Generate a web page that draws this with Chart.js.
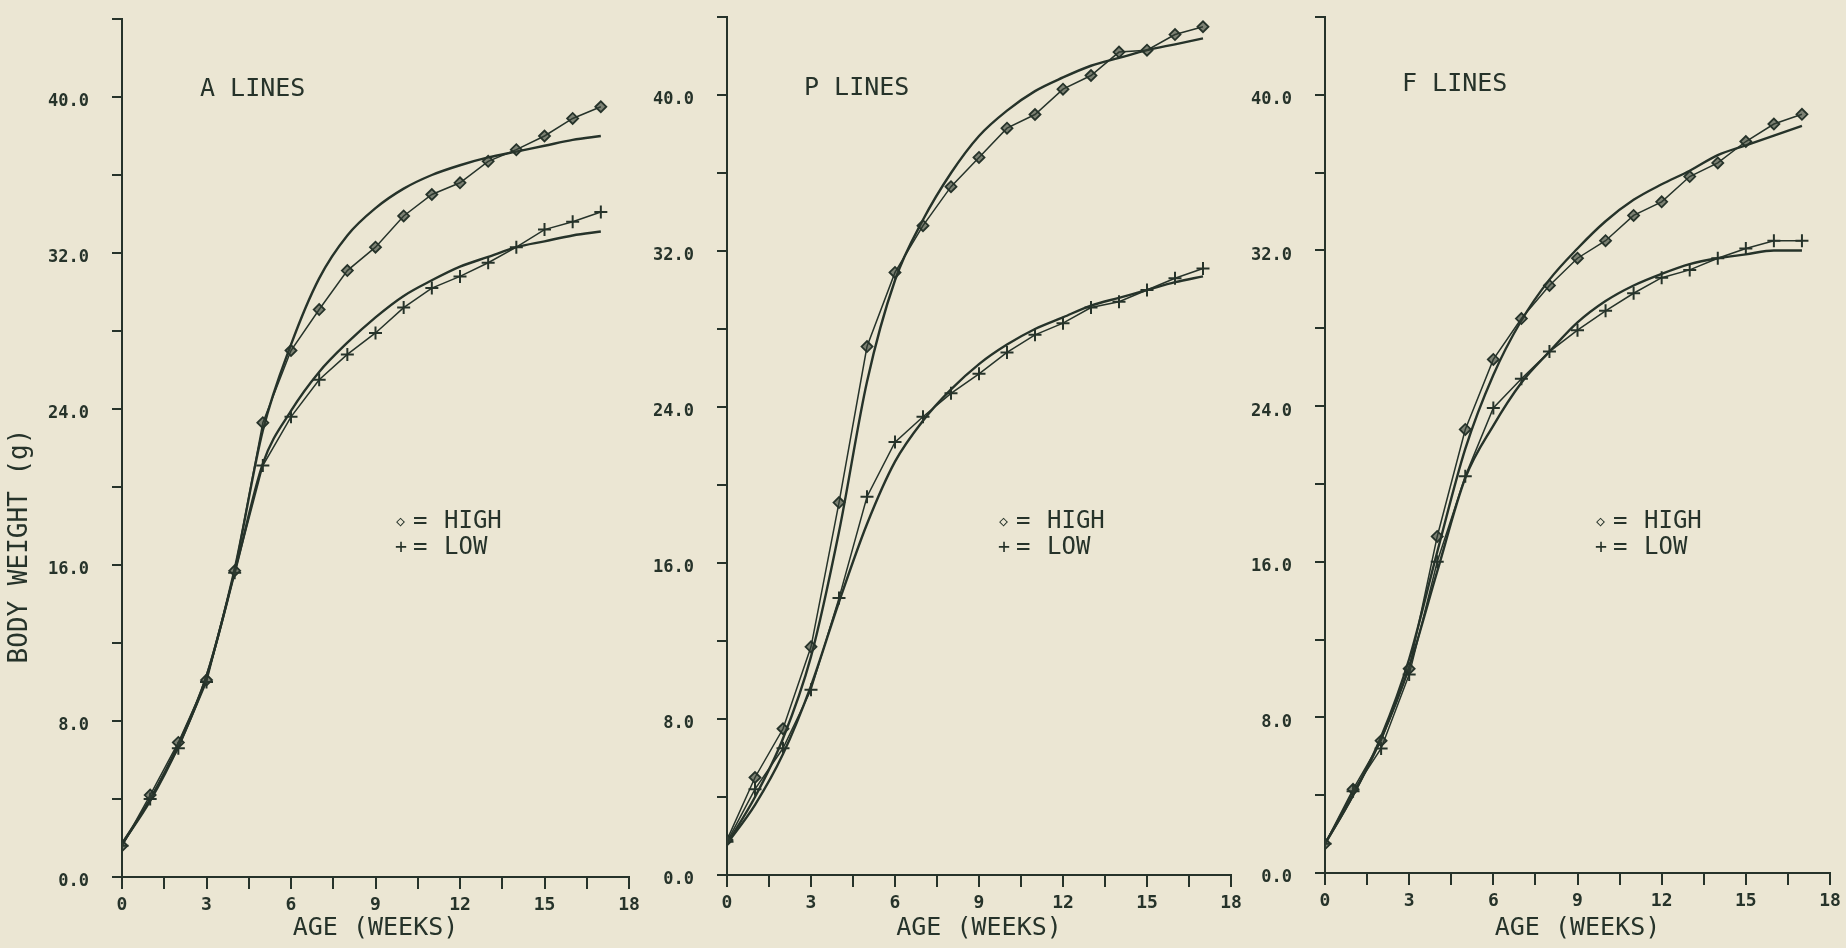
<!DOCTYPE html>
<html>
<head>
<meta charset="utf-8">
<script src="https://cdn.jsdelivr.net/npm/chart.js@4.4.0/dist/chart.umd.min.js"></script>
<style>
  html, body { margin: 0; padding: 0; background: #ebe6d3; }
  body { width: 1846px; height: 948px; position: relative; overflow: hidden; }
  .panel { position: absolute; top: 0; height: 948px; }
</style>
</head>
<body>
<div class="panel" style="left:0;width:650px"><canvas id="chartA"></canvas></div>
<div class="panel" style="left:650px;width:600px"><canvas id="chartP"></canvas></div>
<div class="panel" style="left:1250px;width:596px"><canvas id="chartF"></canvas></div>

<script>
// ---- data (body weight in g) ----
const weeks = [0, 1, 2, 3, 4, 5, 6, 7, 8, 9, 10, 11, 12, 13, 14, 15, 16, 17];
const xLabelValues = [0, 3, 6, 9, 12, 15, 18];
const yLabelValues = [0, 8, 16, 24, 32, 40];

// A lines
const aHighObs = [1.6, 4.2, 6.9, 10.1, 15.7, 23.3, 27.0, 29.1, 31.1, 32.3, 33.9, 35.0, 35.6, 36.7, 37.3, 38.0, 38.9, 39.5];
const aLowObs  = [1.6, 4.0, 6.6, 10.0, 15.6, 21.1, 23.6, 25.5, 26.8, 27.9, 29.2, 30.2, 30.8, 31.5, 32.3, 33.2, 33.6, 34.1];
const aHighFit = [1.7, 3.9, 6.7, 10.3, 15.8, 22.9, 27.3, 30.7, 32.9, 34.3, 35.3, 36.0, 36.5, 36.9, 37.2, 37.5, 37.8, 38.0];
const aLowFit  = [1.7, 4.0, 6.8, 10.3, 15.6, 21.2, 23.9, 25.9, 27.4, 28.7, 29.8, 30.6, 31.3, 31.8, 32.3, 32.6, 32.9, 33.1];

// P lines
const pHighObs = [1.8, 5.0, 7.5, 11.7, 19.1, 27.1, 30.9, 33.3, 35.3, 36.8, 38.3, 39.0, 40.3, 41.0, 42.2, 42.3, 43.1, 43.5];
const pLowObs  = [1.7, 4.4, 6.5, 9.5, 14.2, 19.4, 22.2, 23.5, 24.7, 25.7, 26.8, 27.7, 28.3, 29.1, 29.4, 30.0, 30.6, 31.1];
const pHighFit = [1.6, 4.0, 7.0, 11.2, 17.6, 25.3, 30.5, 33.6, 36.0, 37.9, 39.2, 40.2, 40.9, 41.5, 41.9, 42.3, 42.6, 42.9];
const pLowFit  = [1.6, 3.6, 6.2, 9.7, 14.0, 18.0, 21.2, 23.3, 24.9, 26.2, 27.2, 28.0, 28.6, 29.2, 29.6, 30.0, 30.4, 30.7];

// F lines
const fHighObs = [1.5, 4.3, 6.8, 10.5, 17.3, 22.8, 26.4, 28.5, 30.2, 31.6, 32.5, 33.8, 34.5, 35.8, 36.5, 37.6, 38.5, 39.0];
const fLowObs  = [1.5, 4.2, 6.4, 10.2, 16.0, 20.4, 23.9, 25.4, 26.8, 27.9, 28.9, 29.8, 30.6, 31.0, 31.6, 32.1, 32.5, 32.5];
const fHighFit = [1.5, 4.0, 7.0, 11.0, 16.5, 21.8, 25.6, 28.4, 30.5, 32.1, 33.5, 34.6, 35.4, 36.1, 36.9, 37.4, 37.9, 38.4];
const fLowFit  = [1.5, 4.0, 6.9, 10.6, 15.5, 20.3, 23.0, 25.2, 26.8, 28.3, 29.4, 30.2, 30.8, 31.3, 31.6, 31.8, 32.0, 32.0];

const INK = '#26332a';
const MONO = '"DejaVu Sans Mono", "Liberation Mono", monospace';

function pts(arr) {
  return weeks.map((w, i) => ({ x: w, y: arr[i] }));
}

// plotter-style captions drawn in canvas space
const captions = {
  id: 'captions',
  afterDraw(chart, args, opts) {
    const ctx = chart.ctx;
    ctx.save();
    ctx.fillStyle = INK;
    ctx.textBaseline = 'middle';
    ctx.textAlign = 'left';
    ctx.font = '25px ' + MONO;
    ctx.fillText(opts.title, opts.titleX, opts.titleY);

    // legend
    ctx.font = '24px ' + MONO;
    ctx.fillText('=', opts.legX + 17, opts.legY);
    ctx.fillText('HIGH', opts.legX + 48, opts.legY);
    ctx.fillText('=', opts.legX + 17, opts.legY + 26);
    ctx.fillText('LOW', opts.legX + 48, opts.legY + 26);
    ctx.font = '15px ' + MONO;
    ctx.fillText('\u25C7', opts.legX, opts.legY);
    ctx.font = '20px ' + MONO;
    ctx.fillText('+', opts.legX - 1, opts.legY + 26);

    if (opts.yTitle) {
      ctx.translate(opts.yTitleX, opts.yTitleY);
      ctx.rotate(-Math.PI / 2);
      ctx.textAlign = 'center';
      ctx.font = '26px ' + MONO;
      ctx.fillText(opts.yTitle, 0, 0);
    }
    ctx.restore();
  }
};

function makePanel(id, highObs, lowObs, highFit, lowFit, cfg) {
  const ctx = document.getElementById(id).getContext('2d');
  return new Chart(ctx, {
    type: 'line',
    data: {
      datasets: [
        { label: 'HIGH', data: pts(highObs), borderColor: INK, borderWidth: 1.5,
          pointStyle: 'rectRot', pointRadius: 5.5, pointBorderWidth: 1.8,
          pointBorderColor: INK, pointBackgroundColor: 'rgba(50,62,52,0.6)' },
        { label: 'LOW', data: pts(lowObs), borderColor: INK, borderWidth: 1.5,
          pointStyle: 'cross', pointRadius: 6.5, pointBorderWidth: 2,
          pointBorderColor: INK },
        { label: 'HIGH fit', data: pts(highFit), borderColor: INK, borderWidth: 2.4,
          pointRadius: 0, cubicInterpolationMode: 'monotone' },
        { label: 'LOW fit', data: pts(lowFit), borderColor: INK, borderWidth: 2.4,
          pointRadius: 0, cubicInterpolationMode: 'monotone' }
      ]
    },
    options: {
      responsive: true,
      maintainAspectRatio: false,
      animation: false,
      devicePixelRatio: 1,
      layout: { padding: { top: cfg.top, right: cfg.right, left: 0, bottom: 0 } },
      plugins: {
        legend: { display: false },
        tooltip: { enabled: false },
        captions: cfg.captions
      },
      scales: {
        x: {
          type: 'linear', min: 0, max: 18,
          afterFit: s => {
            s.height = cfg.xHeight;
            s.paddingLeft = 0; s.paddingRight = 0;
          },
          grid: { drawOnChartArea: false, drawTicks: true, tickLength: 12, color: INK, lineWidth: 2 },
          border: { display: true, color: INK, width: 2 },
          ticks: {
            stepSize: 1.5, autoSkip: false, maxRotation: 0, padding: 6, color: INK,
            font: { family: MONO, size: 18, weight: 'bold' },
            callback: v => xLabelValues.includes(v) ? String(v) : ''
          },
          title: {
            display: true, text: 'AGE (WEEKS)', color: INK,
            font: { family: MONO, size: 25 }, padding: { top: 0, bottom: 5 }
          }
        },
        y: {
          min: 0, max: 44,
          afterFit: s => {
            s.width = cfg.yWidth;
            s.paddingTop = 0; s.paddingBottom = 0;
          },
          grid: { drawOnChartArea: false, drawTicks: true, tickLength: 10, color: INK, lineWidth: 2 },
          border: { display: true, color: INK, width: 2 },
          ticks: {
            stepSize: 4, autoSkip: false, padding: 23, color: INK, labelOffset: 5,
            font: { family: MONO, size: 17, weight: 'bold' },
            callback: v => yLabelValues.includes(v) ? v.toFixed(1) : ''
          }
        }
      }
    },
    plugins: [captions]
  });
}

makePanel('chartA', aHighObs, aLowObs, aHighFit, aLowFit, {
  top: 19, right: 21, xHeight: 71, yWidth: 122,
  captions: { title: 'A LINES', titleX: 200, titleY: 89, legX: 396, legY: 522,
              yTitle: 'BODY WEIGHT (g)', yTitleX: 20, yTitleY: 546 }
});
makePanel('chartP', pHighObs, pLowObs, pHighFit, pLowFit, {
  top: 17, right: 19, xHeight: 73, yWidth: 77,
  captions: { title: 'P LINES', titleX: 154, titleY: 88, legX: 349, legY: 522 }
});
makePanel('chartF', fHighObs, fLowObs, fHighFit, fLowFit, {
  top: 17, right: 16, xHeight: 75, yWidth: 75,
  captions: { title: 'F LINES', titleX: 152, titleY: 84, legX: 346, legY: 522 }
});
</script>
</body>
</html>
